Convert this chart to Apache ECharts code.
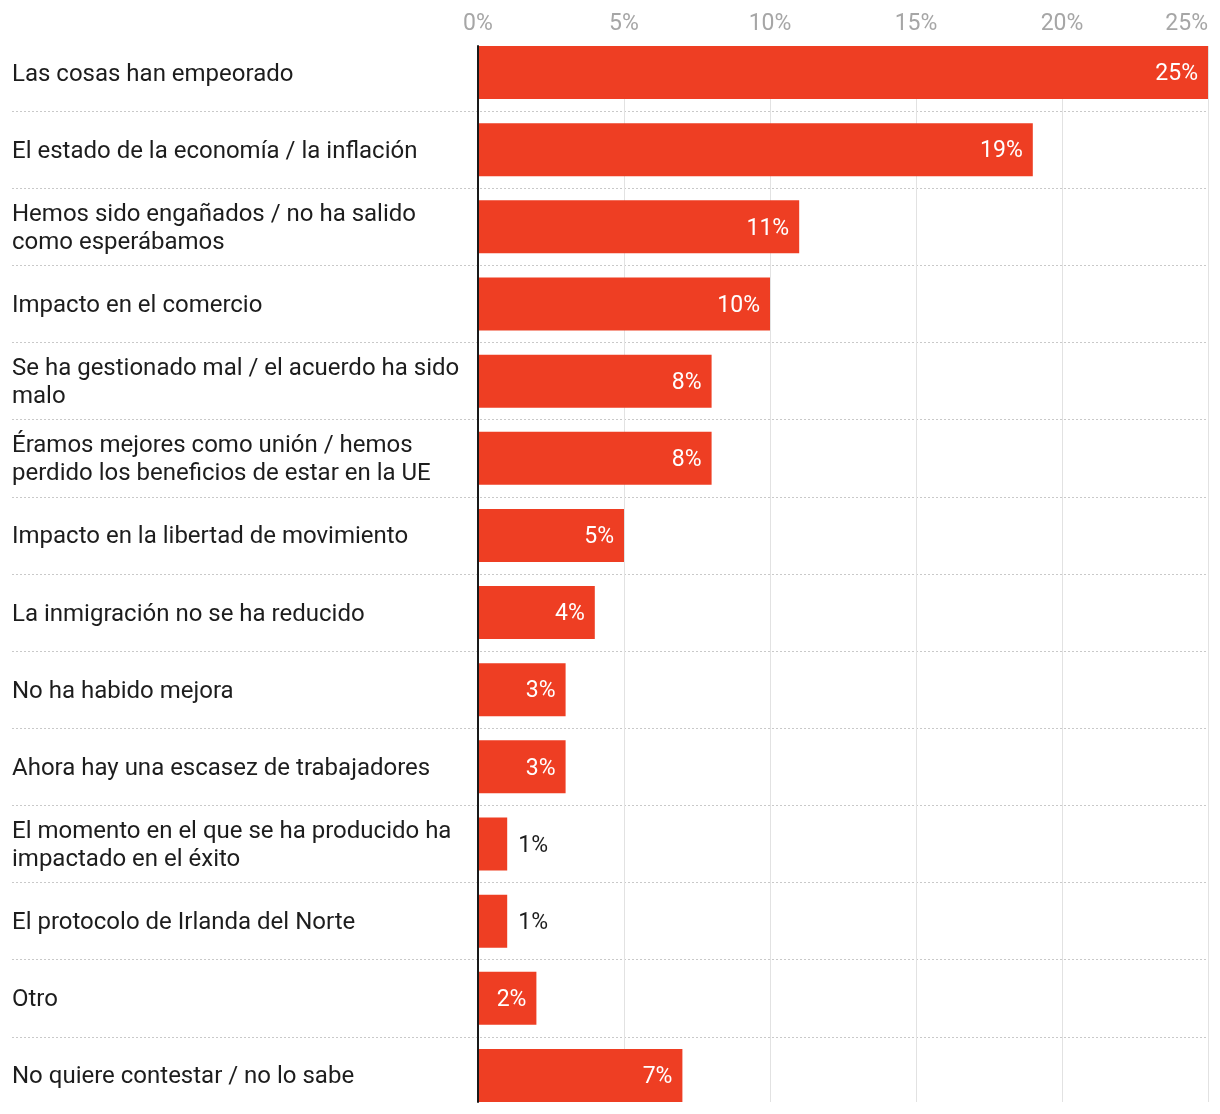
<!DOCTYPE html>
<html>
<head>
<meta charset="utf-8">
<script src="https://cdn.jsdelivr.net/npm/echarts@6/dist/echarts.min.js"></script>
<style>
html,body{margin:0;padding:0;background:#fff;}
#chart{width:1220px;height:1114px;}
</style>
</head>
<body>
<div id="chart"></div>
<script>
const categories = [
  "Las cosas han empeorado",
  "El estado de la economía / la inflación",
  "Hemos sido engañados / no ha salido\ncomo esperábamos",
  "Impacto en el comercio",
  "Se ha gestionado mal / el acuerdo ha sido\nmalo",
  "Éramos mejores como unión / hemos\nperdido los beneficios de estar en la UE",
  "Impacto en la libertad de movimiento",
  "La inmigración no se ha reducido",
  "No ha habido mejora",
  "Ahora hay una escasez de trabajadores",
  "El momento en el que se ha producido ha\nimpactado en el éxito",
  "El protocolo de Irlanda del Norte",
  "Otro",
  "No quiere contestar / no lo sabe"
];
const values = [25, 19, 11, 10, 8, 8, 5, 4, 3, 3, 1, 1, 2, 7];
const axisMin = 0, axisMax = 25, axisStep = 5;

const FONT = 'Roboto';
const BAR = '#ee3e23';

const chart = echarts.init(document.getElementById('chart'), null, {renderer: 'canvas'});

const barData = values.map(v => {
  const small = v < 2;
  return {
    value: v,
    label: small
      ? {position: 'right', distance: 11, color: '#1d1d1d'}
      : {position: 'insideRight', distance: 10, color: '#ffffff'}
  };
});

chart.setOption({
  animation: false,
  backgroundColor: '#ffffff',
  grid: [
    {left: 478, right: 12, top: 46, bottom: 12},
    {left: 12, right: 12, top: 34, bottom: 0},
    {left: 478, right: 12, top: 34, bottom: 0}
  ],
  xAxis: [
    {
      gridIndex: 0, type: 'value', min: axisMin, max: axisMax, interval: axisStep,
      position: 'top', z: 1,
      axisLine: {show: false}, axisTick: {show: false},
      axisLabel: {formatter: '{value}%', color: '#a6a6a6', fontSize: 23, fontFamily: FONT, margin: 10, alignMaxLabel: 'right'},
      splitLine: {show: true, lineStyle: {color: '#e2e2e2', width: 1}}
    },
    {gridIndex: 1, type: 'value', min: axisMin, max: axisMax, show: false},
    {gridIndex: 2, type: 'value', min: axisMin, max: axisMax, show: false}
  ],
  yAxis: [
    {
      gridIndex: 0, type: 'value', min: 0, max: 1, z: 5,
      axisLine: {show: true, lineStyle: {color: '#1a1a1a', width: 2}},
      axisTick: {show: false}, axisLabel: {show: false}, splitLine: {show: false}
    },
    {
      gridIndex: 1, type: 'category', data: categories, inverse: true, z: 0,
      axisLine: {show: false}, axisTick: {show: false}, axisLabel: {show: false},
      splitLine: {show: true, showMinLine: false, showMaxLine: false,
        lineStyle: {color: '#c9c9c9', width: 1, type: [2, 2]}}
    },
    {
      gridIndex: 2, type: 'category', data: categories, inverse: true,
      axisLine: {show: false}, axisTick: {show: false},
      axisLabel: {align: 'left', margin: 466, color: '#1d1d1d', fontSize: 24, fontFamily: FONT, lineHeight: 28,
        formatter: v => v.split('\n').map(s => '{t|' + s + '}').join('\n'),
        rich: {t: {fontSize: 24, fontFamily: FONT, color: '#1d1d1d', lineHeight: 28, padding: [4, 0, 0, 0]}}},
      splitLine: {show: false}
    }
  ],
  series: [{
    type: 'bar', xAxisIndex: 2, yAxisIndex: 2, z: 3,
    data: barData,
    barWidth: 53,
    itemStyle: {color: BAR},
    label: {show: true, formatter: p => p.value + '%', fontSize: 23, fontFamily: FONT, offset: [0, 2]}
  }]
});
</script>
</body>
</html>
